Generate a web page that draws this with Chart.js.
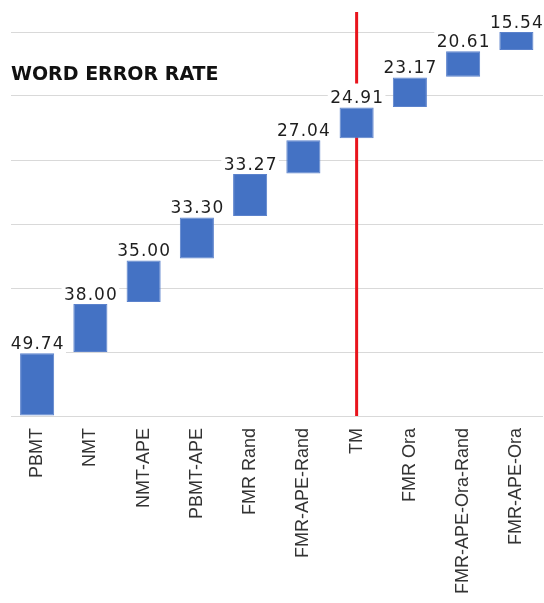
<!DOCTYPE html>
<html>
<head>
<meta charset="utf-8">
<script src="https://cdn.jsdelivr.net/npm/chart.js@4"></script>
<style>
  html, body { margin: 0; padding: 0; background: #fff; }
  #wrap { width: 544px; height: 603px; }
</style>
</head>
<body>
<div id="wrap"><canvas id="chartCanvas" width="544" height="603"></canvas></div>
<script>
const systems = ['PBMT', 'NMT', 'NMT-APE', 'PBMT-APE', 'FMR Rand', 'FMR-APE-Rand', 'TM', 'FMR Ora', 'FMR-APE-Ora-Rand', 'FMR-APE-Ora'];
const werValues = [49.74, 38.00, 35.00, 33.30, 33.27, 27.04, 24.91, 23.17, 20.61, 15.54];
// floating bar extents (hidden axis, 0..60)
const barLow  = [0, 10.0, 17.8, 24.6, 31.25, 37.9, 43.4, 48.3, 53.0, 57.2];
const barHigh = [9.8, 17.5, 24.3, 31.0, 37.8, 43.1, 48.2, 52.9, 57.0, 60.0];
const markerSystem = 'TM';

const labelFont = '17px "DejaVu Sans"';

const extrasPlugin = {
  id: 'extras',
  beforeDatasetsDraw(chart) {
    const ctx = chart.ctx;
    const x = chart.scales.x.getPixelForValue(systems.indexOf(markerSystem));
    ctx.save();
    ctx.strokeStyle = '#e8141c';
    ctx.lineWidth = 3;
    ctx.beginPath();
    ctx.moveTo(x, 12);
    ctx.lineTo(x, chart.chartArea.bottom);
    ctx.stroke();

    // white boxes behind value labels (hide gridlines and red line)
    ctx.font = labelFont;
    ctx.letterSpacing = '1px';
    ctx.fillStyle = '#fff';
    chart.getDatasetMeta(0).data.forEach((bar, i) => {
      const w = ctx.measureText(werValues[i].toFixed(2)).width;
      const top = Math.min(bar.y, bar.base);
      ctx.fillRect(bar.x - w / 2 - 2, top - 24, w + 4, 26);
    });
    ctx.restore();
  },
  afterDatasetsDraw(chart) {
    const ctx = chart.ctx;
    const meta = chart.getDatasetMeta(0);
    ctx.save();
    ctx.font = labelFont;
    ctx.letterSpacing = '1px';
    ctx.textAlign = 'center';
    ctx.textBaseline = 'alphabetic';
    ctx.fillStyle = '#1e1e1e';
    meta.data.forEach((bar, i) => {
      const top = Math.min(bar.y, bar.base);
      ctx.fillText(werValues[i].toFixed(2), bar.x + 0.5, top - 4.5);
    });
    ctx.letterSpacing = '0px';
    ctx.font = 'bold 19px "DejaVu Sans"';
    ctx.textAlign = 'left';
    ctx.fillStyle = '#111';
    ctx.fillText('WORD ERROR RATE', 11, 80);
    ctx.restore();
  }
};

new Chart(document.getElementById('chartCanvas').getContext('2d'), {
  type: 'bar',
  data: {
    labels: systems,
    datasets: [{
      label: 'WER',
      data: barLow.map((lo, i) => [lo, barHigh[i]]),
      backgroundColor: '#4472c4',
      borderColor: '#5b82cc',
      borderWidth: 1,
      borderSkipped: false,
      categoryPercentage: 1,
      barPercentage: 0.64
    }]
  },
  options: {
    responsive: false,
    animation: false,
    layout: { padding: { top: 32, left: 10.5, right: 1, bottom: 0 } },
    plugins: {
      legend: { display: false },
      tooltip: { enabled: false }
    },
    scales: {
      x: {
        grid: { display: false },
        border: { display: false },
        afterFit: scale => {
          scale.height = 187;
          scale.paddingLeft = 0;
          scale.paddingRight = 0;
        },
        ticks: {
          autoSkip: false,
          minRotation: 90,
          maxRotation: 90,
          padding: 4,
          color: '#333',
          font: { family: '"Liberation Sans", Arial', size: 18 }
        }
      },
      y: {
        min: 0,
        max: 60,
        afterFit: scale => { scale.width = 0; },
        ticks: { display: false, stepSize: 10 },
        border: { display: false },
        grid: { color: '#d9d9d9', lineWidth: 1, drawTicks: false }
      }
    }
  },
  plugins: [extrasPlugin]
});
</script>
</body>
</html>
